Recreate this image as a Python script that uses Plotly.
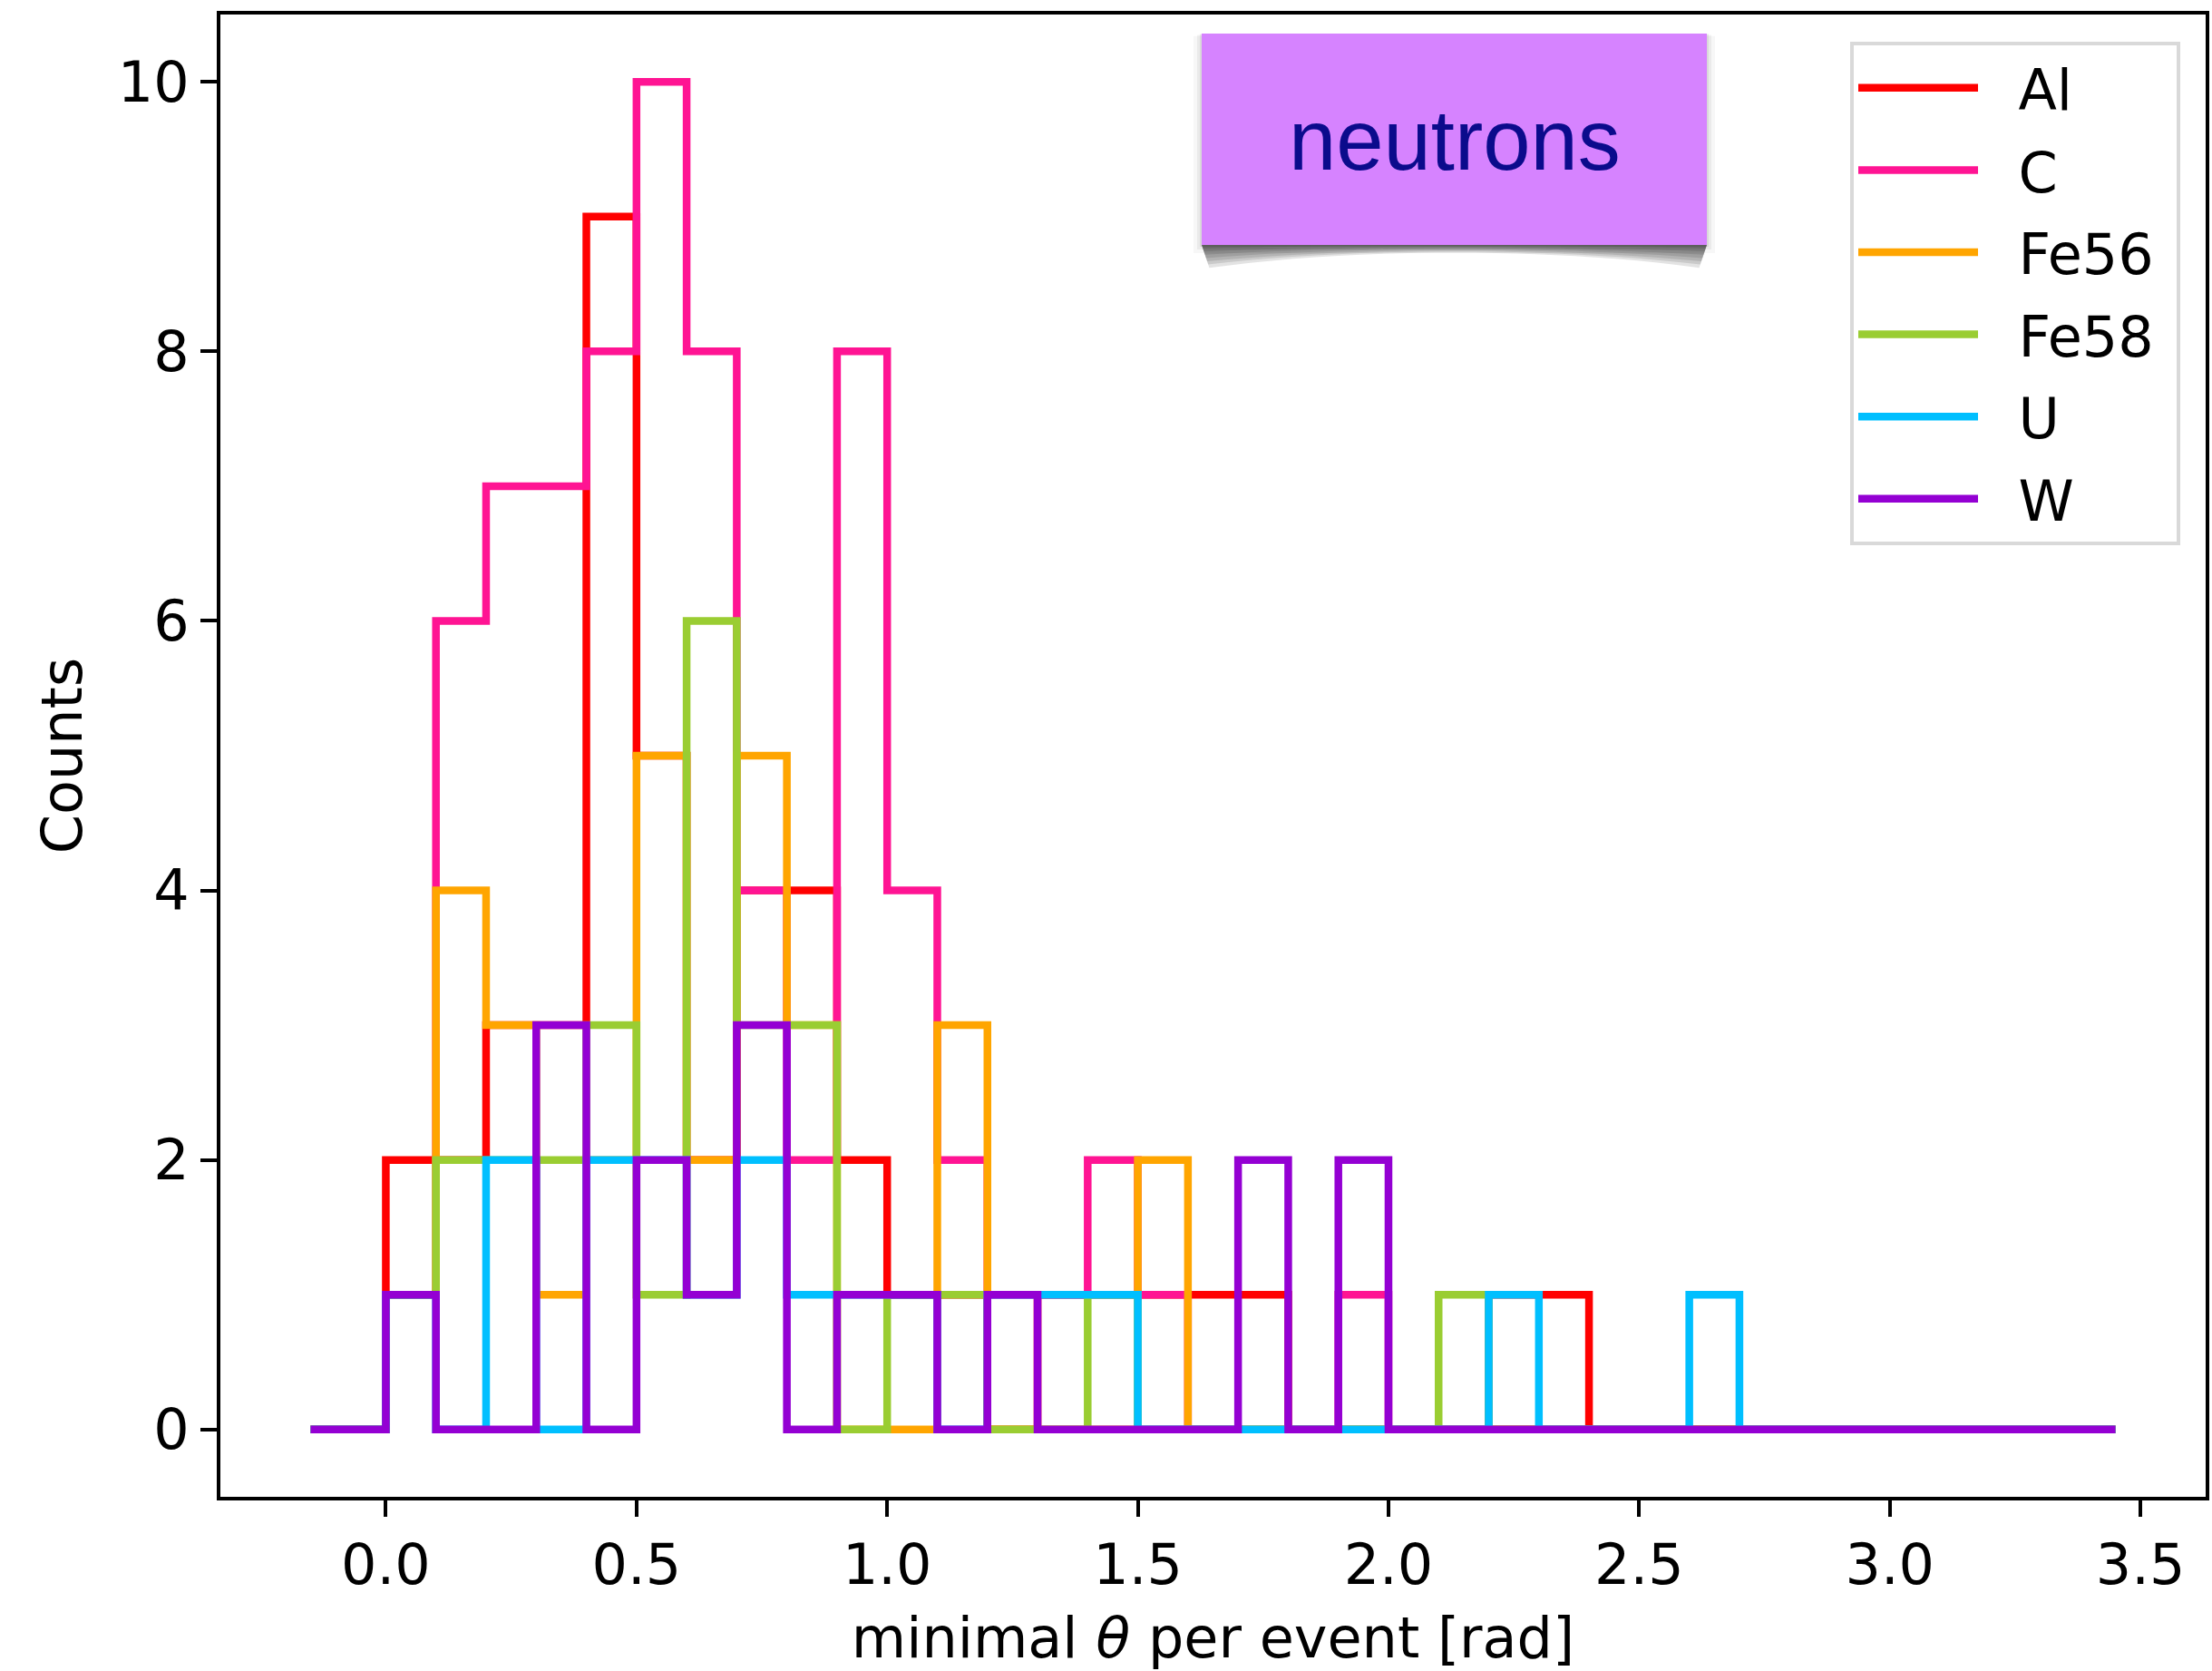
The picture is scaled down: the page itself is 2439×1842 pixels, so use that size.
import plotly.graph_objects as go

# bin centres of the step histogram (steps-mid), width 0.1 rad
bin_centers = [round(-0.15 + 0.1 * i, 2) for i in range(37)]

counts_al   = [0, 0, 2, 2, 3, 3, 9, 5, 2, 4, 4, 2, 1, 1, 0, 1, 1, 1, 1, 1, 0, 0, 0, 0, 1, 1, 0, 0, 0, 0, 0, 0, 0, 0, 0, 0, 0]
counts_c    = [0, 0, 1, 6, 7, 7, 8, 10, 8, 4, 2, 8, 4, 2, 1, 1, 2, 1, 0, 0, 0, 1, 0, 0, 0, 0, 0, 0, 0, 0, 0, 0, 0, 0, 0, 0, 0]
counts_fe56 = [0, 0, 1, 4, 3, 1, 2, 5, 2, 5, 3, 0, 0, 3, 0, 0, 0, 2, 0, 0, 0, 0, 0, 0, 0, 0, 0, 0, 0, 0, 0, 0, 0, 0, 0, 0, 0]
counts_fe58 = [0, 0, 1, 2, 2, 2, 3, 1, 6, 3, 3, 0, 1, 1, 0, 0, 1, 0, 0, 0, 0, 0, 0, 1, 0, 0, 0, 0, 0, 0, 0, 0, 0, 0, 0, 0, 0]
counts_u    = [0, 0, 1, 0, 2, 0, 2, 2, 1, 2, 1, 1, 1, 0, 1, 1, 1, 0, 0, 0, 0, 0, 0, 0, 1, 0, 0, 0, 1, 0, 0, 0, 0, 0, 0, 0, 0]
counts_w    = [0, 0, 1, 0, 0, 3, 0, 2, 1, 3, 0, 1, 1, 0, 1, 0, 0, 0, 0, 2, 0, 2, 0, 0, 0, 0, 0, 0, 0, 0, 0, 0, 0, 0, 0, 0, 0]

targets = ["Al", "C", "Fe56", "Fe58", "U", "W"]
series = [counts_al, counts_c, counts_fe56, counts_fe58, counts_u, counts_w]
colors = ["#ff0000", "#ff1493", "#ffa500", "#9acd32", "#00bfff", "#9400d3"]

x_ticks = [0.0, 0.5, 1.0, 1.5, 2.0, 2.5, 3.0, 3.5]
y_ticks = [0, 2, 4, 6, 8, 10]

W, H = 2439, 1842
ML, MR, MT, MB = 243, 7, 16, 192
PW, PH = W - ML - MR, H - MT - MB


def px(x):
    return (x - ML) / PW


def py(y):
    return (H - MB - y) / PH


NB = "\u00a0"

fig = go.Figure()
for name, ys, col in zip(targets, series, colors):
    # non-breaking spaces give the matplotlib-like gap between handle and label
    fig.add_trace(go.Scatter(x=bin_centers, y=ys, mode="lines", name=NB * 2 + name + NB,
                             legendgroup=name,
                             line=dict(shape="hvh", color=col, width=8.5)))

# "neutrons" label box with a lifted-corner drop shadow
bx0, bx1, by0, by1 = 1325, 1882, 37, 270
shapes = []
for grow, op in [(9, 0.03), (5, 0.05), (2, 0.07)]:
    shapes.append(dict(type="rect", xref="paper", yref="paper", layer="above",
                       x0=px(bx0 - grow), x1=px(bx1 + grow), y0=py(by1 + grow), y1=py(by0 + grow * 0.3),
                       line=dict(width=0), fillcolor=f"rgba(0,0,0,{op})"))
for k in range(1, 8):
    dc, dm, ins = 3.6 * k, 0.4 * k, 1.2 * k
    xa, xb = bx0 + ins, bx1 - ins
    wdt = xb - xa
    path = (f"M{px(bx0)},{py(by1)} L{px(bx1)},{py(by1)} L{px(xb)},{py(by1 + dc)} "
            f"C{px(xb - 0.3 * wdt)},{py(by1 + dm)} {px(xa + 0.3 * wdt)},{py(by1 + dm)} {px(xa)},{py(by1 + dc)} Z")
    shapes.append(dict(type="path", xref="paper", yref="paper", layer="above", path=path,
                       line=dict(width=0), fillcolor="rgba(0,0,0,0.11)"))
shapes.append(dict(type="rect", xref="paper", yref="paper", layer="above",
                   x0=px(bx0), x1=px(bx1), y0=py(by1), y1=py(by0),
                   line=dict(width=0), fillcolor="#d683ff"))

fig.update_layout(
    width=W, height=H,
    margin=dict(l=ML, r=MR, t=MT, b=MB, autoexpand=False),
    paper_bgcolor="white", plot_bgcolor="white",
    font=dict(family="DejaVu Sans", size=62, color="black"),
    shapes=shapes,
    annotations=[dict(text="neutrons", xref="paper", yref="paper",
                      x=px((bx0 + bx1) / 2), y=py((by0 + by1) / 2 + 1),
                      showarrow=False, xanchor="center", yanchor="middle",
                      font=dict(family="Liberation Sans", size=94, color="#0b0b8c"))],
    legend=dict(x=px(2404), y=py(46), xanchor="right", yanchor="top",
                bgcolor="rgba(255,255,255,0.8)", bordercolor="#d9d9d9", borderwidth=4,
                font=dict(family="DejaVu Sans", size=62, color="black"),
                itemwidth=132, tracegroupgap=7),
    showlegend=True,
)
fig.update_xaxes(range=[-0.33, 3.63], tickvals=x_ticks, tickformat=".1f", automargin=False,
                 ticks="outside", ticklen=18, tickwidth=4, tickcolor="black",
                 showline=True, linewidth=4, linecolor="black", mirror=True,
                 showgrid=False, zeroline=False,
                 title=dict(text="minimal <i>θ</i> per event [rad]", standoff=26,
                            font=dict(size=62)))
fig.update_yaxes(range=[-0.5, 10.5], tickvals=y_ticks, automargin=False,
                 ticks="outside", ticklen=18, tickwidth=4, tickcolor="black",
                 showline=True, linewidth=4, linecolor="black", mirror=True,
                 showgrid=False, zeroline=False,
                 title=dict(text="Counts", standoff=20, font=dict(size=62)))

fig.write_html("out.html", config={"displayModeBar": False},
               post_script="document.body.style.margin='0';")
